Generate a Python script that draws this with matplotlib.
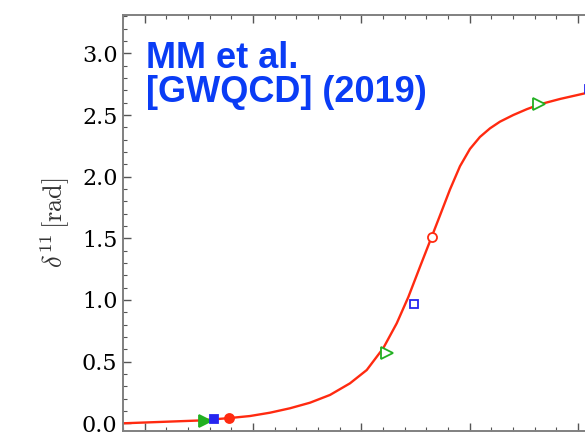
import matplotlib
matplotlib.use("Agg")
import matplotlib.pyplot as plt
from matplotlib.ticker import MultipleLocator

# Fit curve
curve_x = [280.0, 314.2, 351.1, 378.8, 397.2, 415.7, 434.2, 452.6, 471.1, 489.5, 505.0, 520.3,
           532.7, 543.4, 554.2, 565.0, 572.6, 581.8, 591.1, 600.3, 609.5, 618.8, 628.0, 640.3,
           652.7, 664.9, 683.4, 706.5, 740.0]
curve_y = [0.000, 0.011, 0.023, 0.043, 0.059, 0.086, 0.122, 0.167, 0.230, 0.324, 0.432, 0.610,
           0.811, 1.024, 1.270, 1.513, 1.685, 1.895, 2.085, 2.225, 2.322, 2.392, 2.446, 2.500,
           2.547, 2.587, 2.630, 2.676, 2.730]

# Data points
green_x = [355.7, 523.4, 664.3]
green_y = [0.020, 0.573, 2.590]
green_filled = [True, False, False]
blue_x = [364.0, 548.9, 710.0]
blue_y = [0.032, 0.967, 2.710]
blue_filled = [True, False, False]
red_x = [378.1, 565.0]
red_y = [0.043, 1.508]
red_filled = [True, False]

yticks = [0.0, 0.5, 1.0, 1.5, 2.0, 2.5, 3.0]

W, H = 585, 437
fig = plt.figure(figsize=(W / 100, H / 100), dpi=100)
ax = fig.add_axes([123 / W, 6 / H, (621.3 - 123) / W, (431 - 15) / H])

RED = '#ff2a10'
GREEN = '#22b022'
BLUE = '#2626f0'

ax.plot(curve_x, curve_y, color=RED, lw=1.7, zorder=2,
        solid_joinstyle='round', solid_capstyle='round')

def draw(xs, ys, filled, marker, color, ms):
    for x, y, f in zip(xs, ys, filled):
        ax.plot([x], [y], marker=marker, ms=ms, mec=color, mew=1.3,
                mfc=color if f else 'white', ls='none', zorder=3)

draw(green_x, green_y, green_filled, '>', GREEN, 8)
draw(blue_x, blue_y, blue_filled, 's', BLUE, 6)
draw(red_x, red_y, red_filled, 'o', RED, 6.5)

ax.set_xlim(280, 740)
ax.set_ylim(-0.0624, 3.311)
ax.xaxis.set_major_locator(MultipleLocator(100))
ax.xaxis.set_minor_locator(MultipleLocator(20))
ax.set_yticks(yticks)
ax.yaxis.set_minor_locator(MultipleLocator(0.1))
ax.set_yticklabels([f"{v:.1f}" for v in yticks], family='DejaVu Serif', fontsize=16)
ax.tick_params(axis='both', which='both', direction='in', top=True, right=True,
               color='#555555', labelbottom=False)
ax.tick_params(which='major', length=6, width=1)
ax.tick_params(which='minor', length=3, width=0.8)
ax.tick_params(axis='y', pad=4)
for s in ax.spines.values():
    s.set_color('#808080')
    s.set_linewidth(1.4)

plt.rcParams['mathtext.fontset'] = 'cm'
fig.text(55 / W, (H - 222.5) / H, r'$\delta^{11}\,[\mathrm{rad}]$', rotation=90,
         ha='center', va='center', fontsize=19, color='#333333')

fig.text(146 / W, (H - 68.3) / H, 'MM et al.', family='Liberation Sans', weight='bold',
         fontsize=26, color='#0a3cf5', ha='left', va='baseline')
fig.text(146 / W, (H - 101.7) / H, '[GWQCD] (2019)', family='Liberation Sans', weight='bold',
         fontsize=26, color='#0a3cf5', ha='left', va='baseline')

fig.savefig('out.png', dpi=100)
